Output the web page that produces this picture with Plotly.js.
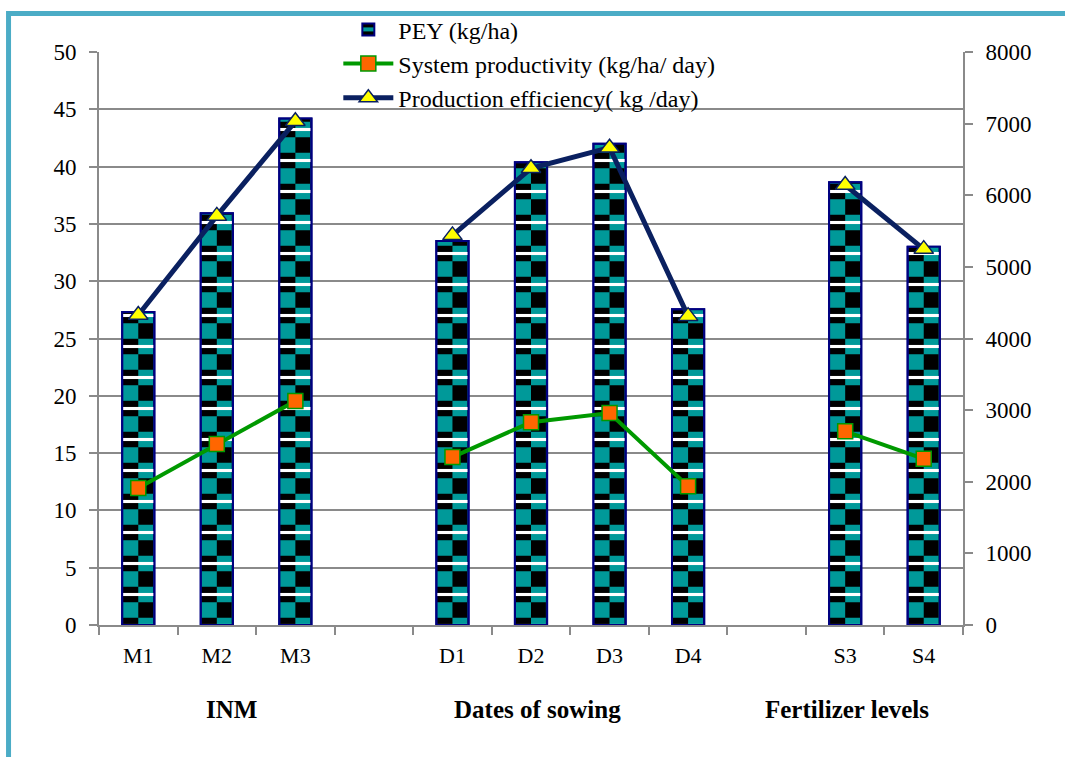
<!DOCTYPE html>
<html>
<head>
<meta charset="utf-8">
<script src="https://cdn.plot.ly/plotly-3.0.1.min.js"></script>
<style>
  html, body { margin: 0; padding: 0; background: #ffffff; }
  #chart { width: 1065px; height: 757px; }
</style>
</head>
<body>
<div id="chart"></div>
<script>
// Categories (placeholders gap1/gap2 are empty slots between groups)
const categories = ['M1', 'M2', 'M3', 'gap1', 'D1', 'D2', 'D3', 'D4', 'gap2', 'S3', 'S4'];
const tickLabels = ['M1', 'M2', 'M3', '', 'D1', 'D2', 'D3', 'D4', '', 'S3', 'S4'];

// PEY (kg/ha) - right axis
const pey = [4370, 5750, 7070, null, 5360, 6460, 6720, 4410, null, 6180, 5280];
// System productivity (kg/ha/ day) - left axis
const systemProductivity = [11.95, 15.8, 19.55, null, 14.65, 17.7, 18.5, 12.1, null, 16.9, 14.5];
// Production efficiency (kg /day) - left axis
const productionEfficiency = [27.05, 35.7, 43.95, null, 34.0, 39.85, 41.65, 26.95, null, 38.4, 32.8];

// Group labels
const groupNames = ['INM', 'Dates of sowing', 'Fertilizer levels'];
const groupPos = [1.19, 5.08, 9.02];

const TEAL = '#009999';
const NAVY = '#000080';
const FONT = '"Liberation Serif", "Times New Roman", serif';

const traces = [
  {
    type: 'bar', name: 'PEY (kg/ha)', x: categories, y: pey, yaxis: 'y',
    width: 0.41, offset: -0.205,
    marker: {
      color: TEAL,
      line: { color: NAVY, width: 2 },
      pattern: { shape: '-', size: 31, solidity: 0.5, fgcolor: '#000000', bgcolor: TEAL, fillmode: 'replace' }
    },
    hoverinfo: 'skip'
  },
  {
    type: 'bar', name: 'PEY b', x: categories, y: pey, yaxis: 'y', showlegend: false,
    width: 0.19, offset: 0,
    marker: {
      color: '#000000',
      line: { width: 0 },
      pattern: { shape: '-', size: 31, solidity: 0.5, fgcolor: TEAL, bgcolor: '#000000', fillmode: 'replace' }
    },
    hoverinfo: 'skip'
  },
  {
    type: 'bar', name: 'PEY c', x: categories, y: pey, yaxis: 'y', showlegend: false,
    width: 0.41, offset: -0.205,
    marker: {
      color: 'rgba(0,0,0,0)',
      line: { color: NAVY, width: 2 },
      pattern: { shape: '-', size: 31, solidity: 0.1, fgcolor: '#ffffff', bgcolor: 'rgba(0,0,0,0)', fillmode: 'replace' }
    },
    hoverinfo: 'skip'
  },
  {
    type: 'scatter', mode: 'lines+markers', name: 'System productivity (kg/ha/ day)',
    x: categories, y: systemProductivity, yaxis: 'y2', connectgaps: false,
    line: { color: '#009900', width: 4 },
    marker: { symbol: 'square', size: 15, color: '#FF6600', line: { color: '#009900', width: 1.5 } }
  },
  {
    type: 'scatter', mode: 'lines+markers', name: 'Production efficiency( kg /day)',
    x: categories, y: productionEfficiency, yaxis: 'y2', connectgaps: false,
    line: { color: '#0a2060', width: 5 },
    marker: { symbol: 'triangle-up', size: 17, color: '#FFFF00', line: { color: '#0a2060', width: 1.5 } }
  }
];

const annotations = groupNames.map((g, i) => ({
  text: '<b>' + g + '</b>', x: groupPos[i], xref: 'x', y: -0.148, yref: 'paper',
  xanchor: 'center', yanchor: 'middle', showarrow: false,
  font: { family: FONT, size: 25, color: '#000' }
}));

const layout = {
  width: 1065, height: 757,
  margin: { l: 99, r: 102, t: 52, b: 132, autoexpand: false },
  paper_bgcolor: '#ffffff', plot_bgcolor: 'rgba(0,0,0,0)',
  barmode: 'overlay',
  font: { family: FONT, size: 22, color: '#000' },
  showlegend: true,
  legend: {
    x: 0.277, y: 1.078, xanchor: 'left', yanchor: 'top',
    bgcolor: 'rgba(0,0,0,0)', font: { family: FONT, size: 24, color: '#000' },
    itemwidth: 50, tracegroupgap: 0
  },
  xaxis: {
    type: 'category', categoryorder: 'array', categoryarray: categories,
    tickmode: 'array', tickvals: categories, ticktext: tickLabels,
    tickson: 'boundaries', ticks: 'outside', ticklen: 8, tickwidth: 2, tickcolor: '#8a8a8a',
    showline: true, linecolor: '#8a8a8a', linewidth: 2, showgrid: false, zeroline: false,
    ticklabelstandoff: 10,
    tickfont: { family: FONT, size: 22, color: '#000' }, range: [-0.5, 10.5]
  },
  yaxis: {
    side: 'right', range: [0, 8000], dtick: 1000, tick0: 0,
    ticks: 'outside', ticklen: 8, tickwidth: 2, tickcolor: '#8a8a8a',
    showline: true, linecolor: '#8a8a8a', linewidth: 2, showgrid: false, zeroline: false,
    ticklabelstandoff: 8,
    tickfont: { family: FONT, size: 23, color: '#000' }
  },
  yaxis2: {
    overlaying: 'y', side: 'left', range: [0, 50], dtick: 5, tick0: 0,
    ticks: 'outside', ticklen: 8, tickwidth: 2, tickcolor: '#8a8a8a',
    showline: true, linecolor: '#8a8a8a', linewidth: 2,
    showgrid: true, gridcolor: '#8a8a8a', gridwidth: 2, zeroline: false,
    ticklabelstandoff: 8,
    tickfont: { family: FONT, size: 23, color: '#000' }
  },
  shapes: [
    { type: 'rect', xref: 'paper', yref: 'paper', x0: -0.1047, x1: 1.3, y0: -0.3, y1: 1.0672,
      line: { color: '#4BACC6', width: 5 }, fillcolor: 'rgba(0,0,0,0)', layer: 'below' }
  ],
  annotations: annotations
};

Plotly.newPlot('chart', traces, layout, { displayModeBar: false, staticPlot: true });
</script>
</body>
</html>
